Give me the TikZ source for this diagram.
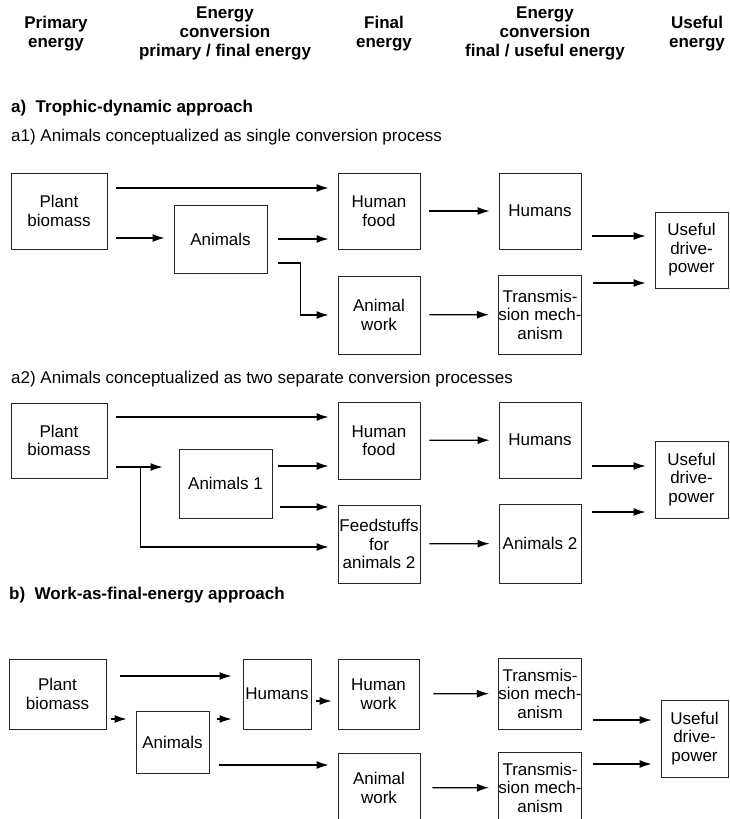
\documentclass[tikz,border=0pt]{standalone}
\usepackage{fontspec}
\setmainfont{Liberation Sans}
\usetikzlibrary{arrows.meta}
\tikzset{
  box/.style={draw=black!85,line width=0.9pt,align=center,inner sep=0pt,font=\fontsize{17}{18.5}\selectfont},
  head/.style={align=center,font=\fontsize{17}{19}\selectfont\bfseries},
  lbl/.style={anchor=west,inner sep=0pt,font=\fontsize{17}{19}\selectfont},
  arr/.style={-{Latex[length=12pt,width=8pt]},line width=1.2pt,shorten <=9pt,shorten >=9pt},
}
\begin{document}
\begin{tikzpicture}[x=1pt,y=1pt]
\useasboundingbox (0,0) rectangle (730,-819);
% column heads
\node[head] (h1) at (56,-34) {Primary\\energy};
\node[head] (h2) at (225,-33) {Energy\\conversion\\primary / final energy};
\node[head] (h3) at (384,-34) {Final\\energy};
\node[head] (h4) at (545,-33) {Energy\\conversion\\final / useful energy};
\node[head] (h5) at (697,-34) {Useful\\energy};
\node[lbl,font=\fontsize{17}{19}\selectfont\bfseries] (ta) at (11,-108) {a)\ \ Trophic-dynamic approach};
\node[lbl] (ta1) at (11,-137) {a1) Animals conceptualized as single conversion process};
\node[lbl] (ta2) at (11,-379) {a2) Animals conceptualized as two separate conversion processes};
\node[lbl,font=\fontsize{17}{19}\selectfont\bfseries] (tb) at (9,-595) {b)\ \ Work-as-final-energy approach};
% a1
\node[box,minimum width=96pt,minimum height=76pt] (pb1) at (59,-211) {Plant\\biomass};
\node[box,minimum width=93pt,minimum height=68pt] (an1) at (220.5,-239) {Animals};
\node[box,minimum width=82pt,minimum height=76pt] (hf1) at (379,-211) {Human\\food};
\node[box,minimum width=82pt,minimum height=78pt] (aw1) at (379,-315) {Animal\\work};
\node[box,minimum width=82pt,minimum height=76pt] (hu1) at (540,-211) {Humans};
\node[box,minimum width=82pt,minimum height=79pt] (tr1) at (540,-314.5) {Transmis-\\sion mech-\\anism};
\node[box,minimum width=73pt,minimum height=76pt] (us1) at (691.5,-250) {Useful\\drive-\\power};
% a2
\node[box,minimum width=96pt,minimum height=75pt] (pb2) at (59,-440.5) {Plant\\biomass};
\node[box,minimum width=93pt,minimum height=69pt] (an2) at (225.5,-483.5) {Animals 1};
\node[box,minimum width=82pt,minimum height=77pt] (hf2) at (379,-440.5) {Human\\food};
\node[box,minimum width=82pt,minimum height=78pt] (fs2) at (379,-544) {Feedstuffs\\for\\animals 2};
\node[box,minimum width=82pt,minimum height=76pt] (hu2) at (540,-440) {Humans};
\node[box,minimum width=82pt,minimum height=79pt] (a22) at (540,-543.5) {Animals 2};
\node[box,minimum width=73pt,minimum height=77pt] (us2) at (691.5,-479.5) {Useful\\drive-\\power};
% b
\node[box,minimum width=97pt,minimum height=70pt] (pb3) at (57.5,-694) {Plant\\biomass};
\node[box,minimum width=73pt,minimum height=62pt] (an3) at (172.5,-742) {Animals};
\node[box,minimum width=68pt,minimum height=70pt] (hu3) at (277,-694) {Humans};
\node[box,minimum width=81pt,minimum height=70pt] (hw3) at (378.5,-694) {Human\\work};
\node[box,minimum width=82pt,minimum height=70pt] (aw3) at (379,-788) {Animal\\work};
\node[box,minimum width=82pt,minimum height=71pt] (tr3a) at (540,-693.5) {Transmis-\\sion mech-\\anism};
\node[box,minimum width=82pt,minimum height=71pt] (tr3b) at (540,-787.5) {Transmis-\\sion mech-\\anism};
\node[box,minimum width=67pt,minimum height=77pt] (us3) at (694.5,-738.5) {Useful\\drive-\\power};
% arrows a1
\draw[arr] ([yshift=23]pb1.east) -- ([yshift=23]hf1.west);
\draw[arr] ([yshift=-27]pb1.east) -- ([yshift=-27]pb1.east -| an1.west);
\draw[arr,shorten <=11pt] (an1.east) -- (an1.east -| hf1.west);
\draw[arr,shorten <=11pt] ([yshift=-24]an1.east) -- ++(33,0) |- (aw1.west);
\draw[arr] (hf1) -- (hu1);
\draw[arr] (aw1) -- (tr1);
% arrows a2
\draw[arr] ([yshift=23.5]pb2.east) -- ([yshift=23.5]hf2.west);
\draw[arr,shorten >=16pt] ([yshift=-26.5]pb2.east) -- ([yshift=-26.5]pb2.east -| an2.west);
\draw[arr,shorten <=0pt] ([xshift=33,yshift=-26.5]pb2.east) |- ([yshift=-3]fs2.west);
\draw[arr,shorten <=6pt] ([yshift=17.5]an2.east) -- ([yshift=17.5]an2.east -| hf2.west);
\draw[arr,shorten <=8pt] ([yshift=-23.5]an2.east) -- ([yshift=-23.5]an2.east -| fs2.west);
\draw[arr] (hf2) -- (hu2);
\draw[arr] (fs2) -- (a22);
% arrows b
\draw[arr,shorten <=14pt,shorten >=11pt] ([yshift=18]pb3.east) -- ([yshift=18]pb3.east -| hu3.west);
\draw[arr,shorten <=5pt] ([yshift=-25]pb3.east) -- ([yshift=-25]pb3.east -| an3.west);
\draw[arr,shorten <=8pt,shorten >=11pt] ([yshift=23]an3.east) -- ([yshift=23]an3.east -| hu3.west);
\draw[arr,shorten <=5pt,shorten >=6pt] ([yshift=-7]hu3.east) -- ([yshift=-7]hu3.east -| hw3.west);
\draw[arr,shorten <=10pt] ([yshift=-23]an3.east) -- ([yshift=-23]an3.east -| aw3.west);
\draw[arr,shorten <=14pt] (hw3) -- (tr3a);
\draw[arr,shorten <=12pt] (aw3) -- (tr3b);
% into useful drive-power
\foreach \a/\s/\u in {hu1/-25/us1,tr1/31.5/us1,hu2/-26/us2,a22/31.5/us2,tr3a/-26.5/us3,tr3b/23.5/us3}
  \draw[arr,shorten <=11pt] ([yshift=\s]\a.east) -- ([yshift=\s]\a.east -| \u.west);
\end{tikzpicture}
\end{document}
